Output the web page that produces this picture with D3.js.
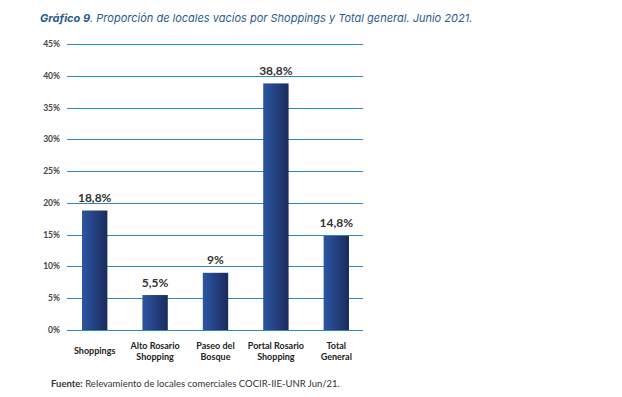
<!DOCTYPE html>
<html>
<head>
<meta charset="utf-8">
<script src="https://cdn.jsdelivr.net/npm/d3@7"></script>
<style>
body { margin: 0; background: #fff; }
svg { display: block; }
</style>
</head>
<body>
<div id="chart"></div>
<script>
var categories = [["Shoppings"], ["Alto Rosario", "Shopping"], ["Paseo del", "Bosque"], ["Portal Rosario", "Shopping"], ["Total", "General"]];
var values = [18.8, 5.5, 9, 38.8, 14.8];
var valueLabels = ["18,8%", "5,5%", "9%", "38,8%", "14,8%"];
var yTicks = [0, 5, 10, 15, 20, 25, 30, 35, 40, 45];

var width = 622, height = 397;
var svg = d3.select("#chart").append("svg")
    .attr("width", width)
    .attr("height", height);

// gradient for the bars
var grad = svg.append("defs").append("linearGradient")
    .attr("id", "barGrad")
    .attr("x1", "0%").attr("x2", "100%")
    .attr("y1", "0%").attr("y2", "0%");
grad.append("stop").attr("offset", "0%").attr("stop-color", "#2c56a3");
grad.append("stop").attr("offset", "100%").attr("stop-color", "#1b2b5c");

// title
var title = svg.append("text")
    .attr("x", 40)
    .attr("y", 22)
    .style("font-family", "Inter, 'Open Sans', sans-serif")
    .style("font-size", "11px")
    .style("font-style", "italic")
    .style("fill", "#2b5b8c");
title.append("tspan").style("font-weight", "bold").text("Gráfico 9");
title.append("tspan").text(". Proporción de locales vacíos por Shoppings y Total general. Junio 2021.");

var x = d3.scaleBand()
    .domain(d3.range(categories.length))
    .range([64.5, 366.5])
    .paddingInner(0.58)
    .paddingOuter(0.29);

var y = d3.scaleLinear()
    .domain([0, 45])
    .range([330, 44]);

// gridlines
svg.append("g").selectAll("line")
    .data(yTicks)
    .enter()
    .append("line")
    .attr("x1", 67)
    .attr("x2", 363)
    .attr("y1", function(d) { return Math.round(y(d)) + 0.5; })
    .attr("y2", function(d) { return Math.round(y(d)) + 0.5; })
    .style("stroke", "#2a8bb8")
    .style("stroke-width", 1.2);

// y tick labels
svg.append("g").selectAll("text")
    .data(yTicks)
    .enter()
    .append("text")
    .attr("x", 60)
    .attr("y", function(d) { return y(d) + 3; })
    .style("text-anchor", "end")
    .style("font-family", "Lato, sans-serif")
    .style("font-size", "8.5px")
    .style("font-weight", "bold")
    .style("fill", "#444")
    .text(function(d) { return d + "%"; });

// bars
svg.append("g").selectAll("rect")
    .data(values)
    .enter()
    .append("rect")
    .attr("x", function(d, i) { return x(i); })
    .attr("width", x.bandwidth())
    .attr("y", function(d) { return y(d); })
    .attr("height", function(d) { return y(0) - y(d); })
    .style("fill", "url(#barGrad)");

// value labels
svg.append("g").selectAll("text")
    .data(values)
    .enter()
    .append("text")
    .attr("x", function(d, i) { return x(i) + x.bandwidth() / 2; })
    .attr("y", function(d) { return y(d) - 8.5; })
    .style("text-anchor", "middle")
    .style("font-family", "Lato, sans-serif")
    .style("font-size", "12px")
    .style("font-weight", "bold")
    .style("fill", "#333")
    .text(function(d, i) { return valueLabels[i]; });

// category labels
var cat = svg.append("g").selectAll("text")
    .data(categories)
    .enter()
    .append("text")
    .attr("x", function(d, i) { return x(i) + x.bandwidth() / 2; })
    .attr("y", function(d) { return d.length == 1 ? 354 : 349; })
    .style("text-anchor", "middle")
    .style("font-family", "Lato, sans-serif")
    .style("font-size", "9px")
    .style("font-weight", "bold")
    .style("fill", "#222");
cat.selectAll("tspan")
    .data(function(d) { return d; })
    .enter()
    .append("tspan")
    .attr("x", function() { return d3.select(this.parentNode).attr("x"); })
    .attr("dy", function(d, i) { return i == 0 ? 0 : 10.5; })
    .text(function(d) { return d; });

// source
var src = svg.append("text")
    .attr("x", 51)
    .attr("y", 387)
    .style("font-family", "Lato, sans-serif")
    .style("font-size", "9.5px")
    .style("fill", "#333");
src.append("tspan").style("font-weight", "bold").text("Fuente:");
src.append("tspan").text(" Relevamiento de locales comerciales COCIR-IIE-UNR Jun/21.");
</script>
</body>
</html>
